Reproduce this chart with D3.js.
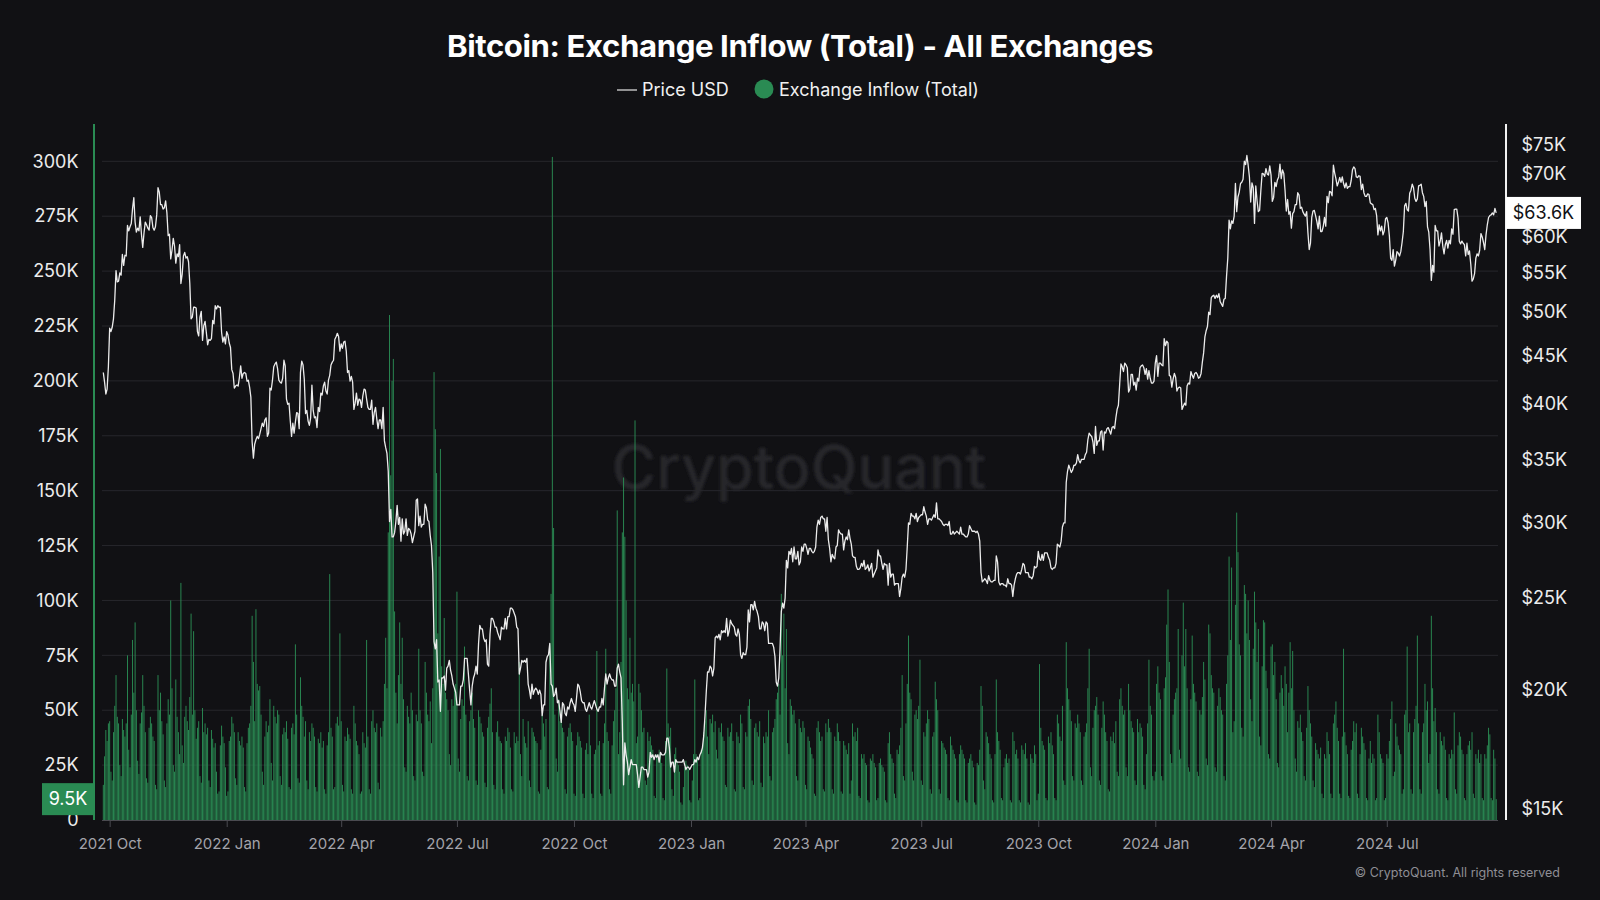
<!DOCTYPE html>
<html>
<head>
<meta charset="utf-8">
<script src="https://cdn.jsdelivr.net/npm/d3@7"></script>
<style>
  body { margin: 0; background: #111114; }
  svg { display: block; font-family: 'Inter', 'Noto Sans', sans-serif; }
</style>
</head>
<body>
<svg></svg>
<script>
const width = 1600;
const height = 900;

// first day of the series, one value per day after it
const startDate = '2021-09-26';

// exchange inflow (total), thousand BTC per day
const inflowK = [
  16, 29, 41, 36, 44,                                                                                          // 2021 Sep 26-30
  45, 22, 18, 40, 52, 66, 47, 44, 25, 20, 46, 41, 38, 44, 75, 32, 24, 48, 82, 58, 90, 50, 27, 21, 44, 49, 66, 52, 40, 19, 17, // Oct
  42, 47, 44, 38, 36, 16, 14, 66, 50, 58, 45, 39, 18, 15, 44, 55, 48, 100, 60, 25, 22, 64, 47, 40, 30, 108, 34, 26, 47, 52,   // Nov
  45, 41, 56, 94, 48, 86, 50, 37, 42, 45, 20, 17, 51, 40, 44, 39, 42, 18, 15, 41, 37, 33, 35, 22, 12, 13, 34, 43, 38, 35, 24, // Dec
  11, 13, 36, 38, 47, 44, 40, 19, 16, 40, 36, 34, 38, 33, 15, 13, 35, 42, 44, 52, 93, 72, 45, 96, 62, 59, 61, 48, 22, 16, 38, // 2022 Jan
  45, 40, 43, 55, 26, 18, 52, 47, 44, 50, 48, 20, 16, 39, 42, 40, 45, 37, 15, 14, 42, 44, 39, 80, 48, 19, 17, 65,             // Feb
  52, 47, 38, 45, 18, 14, 40, 36, 44, 42, 38, 15, 13, 37, 35, 40, 33, 36, 14, 12, 34, 40, 112, 42, 38, 14, 15, 44, 47, 43, 85, // Mar
  45, 16, 13, 38, 36, 42, 39, 37, 14, 12, 52, 44, 36, 34, 30, 12, 13, 40, 35, 33, 82, 38, 14, 12, 45, 50, 42, 40, 44, 17,     // Apr
  14, 42, 38, 45, 62, 83, 60, 131, 230, 157, 200, 210, 95, 58, 44, 66, 90, 62, 83, 55, 24, 22, 52, 47, 44, 58, 50, 20, 18, 48, 45, // May
  78, 50, 44, 22, 20, 72, 58, 48, 45, 54, 35, 60, 204, 178, 158, 85, 120, 169, 70, 62, 92, 58, 55, 50, 30, 25, 55, 52, 60, 62, // Jun
  104, 28, 22, 46, 55, 52, 79, 48, 20, 18, 45, 50, 58, 46, 42, 18, 16, 50, 47, 44, 40, 38, 17, 15, 42, 47, 53, 60, 40, 16, 14, // Jul
  40, 45, 38, 36, 35, 14, 12, 38, 36, 42, 40, 33, 14, 13, 40, 35, 38, 36, 72, 30, 20, 46, 38, 35, 33, 45, 18, 15, 42, 40, 38, // Aug
  36, 35, 13, 12, 32, 48, 44, 38, 46, 15, 14, 80, 103, 302, 133, 48, 28, 22, 55, 45, 50, 42, 40, 14, 12, 38, 42, 44, 40, 36,  // Sep
  12, 11, 34, 40, 38, 36, 33, 12, 10, 32, 35, 30, 48, 34, 12, 10, 30, 32, 77, 34, 36, 12, 11, 35, 44, 78, 40, 36, 14, 12, 34, // Oct
  45, 50, 60, 141, 30, 40, 72, 131, 156, 129, 100, 60, 55, 83, 58, 62, 54, 182, 35, 38, 62, 58, 50, 40, 42, 18, 16, 40, 36, 38, // Nov
  34, 32, 11, 10, 30, 28, 32, 30, 26, 10, 9, 36, 69, 44, 38, 42, 14, 11, 30, 33, 27, 25, 22, 8, 7, 15, 24, 27, 25, 23, 9,     // Dec
  8, 18, 30, 64, 30, 28, 9, 10, 32, 34, 40, 45, 50, 38, 30, 46, 44, 48, 40, 45, 32, 28, 42, 40, 44, 38, 36, 16, 15, 42, 38,   // 2023 Jan
  40, 44, 36, 14, 13, 40, 38, 35, 48, 44, 15, 14, 40, 38, 52, 55, 46, 18, 16, 42, 44, 40, 38, 45, 17, 15, 38, 35,             // Feb
  40, 38, 50, 20, 18, 40, 42, 46, 55, 58, 62, 48, 103, 75, 94, 60, 87, 35, 30, 55, 52, 48, 50, 44, 20, 18, 46, 42, 40, 45, 42, // Mar
  16, 14, 38, 36, 33, 30, 28, 12, 11, 42, 45, 40, 36, 38, 14, 13, 44, 40, 46, 42, 40, 14, 12, 38, 36, 44, 40, 36, 13, 12,     // Apr
  36, 34, 32, 30, 35, 12, 18, 44, 38, 40, 36, 42, 11, 10, 30, 28, 30, 26, 25, 9, 8, 28, 27, 30, 26, 24, 9, 10, 26, 28, 25,    // May
  24, 22, 9, 8, 35, 40, 30, 28, 26, 12, 10, 32, 30, 34, 42, 66, 20, 18, 44, 62, 84, 58, 55, 22, 18, 48, 50, 46, 52, 73,       // Jun
  18, 16, 40, 38, 44, 50, 46, 14, 12, 38, 40, 63, 55, 50, 14, 12, 36, 35, 33, 32, 30, 10, 9, 38, 34, 32, 30, 28, 9, 8, 30,    // Jul
  34, 32, 30, 28, 9, 8, 26, 28, 30, 27, 24, 8, 7, 26, 25, 32, 61, 52, 18, 14, 40, 38, 35, 30, 28, 9, 8, 30, 64, 40, 36,       // Aug
  32, 10, 9, 24, 28, 30, 26, 28, 9, 8, 40, 36, 30, 32, 28, 9, 8, 34, 32, 30, 35, 28, 8, 7, 30, 28, 26, 34, 30, 9,             // Sep
  12, 71, 42, 36, 34, 32, 10, 9, 38, 35, 40, 34, 30, 10, 9, 48, 44, 38, 36, 52, 18, 16, 81, 60, 55, 50, 45, 20, 18, 44, 42,   // Oct
  48, 44, 40, 18, 16, 38, 40, 44, 60, 78, 24, 20, 42, 50, 52, 56, 48, 18, 16, 42, 54, 48, 40, 36, 14, 13, 38, 36, 40, 35,     // Nov
  45, 22, 20, 55, 60, 52, 48, 50, 24, 20, 62, 50, 45, 42, 40, 18, 16, 46, 40, 44, 42, 38, 16, 14, 30, 44, 73, 52, 48, 20, 18, // Dec
  22, 62, 70, 58, 55, 20, 18, 60, 65, 89, 105, 72, 30, 26, 48, 55, 58, 60, 87, 32, 28, 75, 99, 70, 87, 60, 24, 22, 55, 84, 62, // 2024 Jan
  58, 54, 22, 20, 50, 48, 56, 72, 64, 28, 25, 89, 85, 66, 60, 58, 24, 22, 52, 60, 56, 50, 48, 20, 18, 62, 75, 120, 82,        // Feb
  115, 40, 45, 98, 140, 122, 80, 75, 42, 38, 107, 103, 85, 100, 82, 55, 45, 78, 104, 90, 72, 87, 38, 34, 70, 91, 90, 68, 60, 30, 28, // Mar
  79, 80, 66, 72, 55, 26, 24, 58, 66, 60, 52, 70, 62, 40, 58, 81, 60, 77, 50, 28, 22, 45, 42, 48, 40, 36, 20, 18, 42, 61,     // Apr
  50, 44, 38, 18, 15, 35, 32, 30, 28, 33, 12, 10, 30, 28, 40, 36, 30, 12, 10, 44, 48, 54, 42, 36, 12, 10, 38, 78, 40, 34, 30, // May
  11, 10, 32, 36, 45, 40, 44, 12, 10, 30, 42, 38, 35, 32, 10, 9, 28, 36, 26, 30, 28, 9, 10, 48, 40, 30, 28, 26, 9, 10,        // Jun
  30, 28, 36, 46, 54, 20, 22, 44, 38, 34, 32, 30, 12, 14, 48, 50, 79, 40, 44, 14, 12, 40, 46, 52, 84, 44, 14, 12, 40, 44, 62, // Jul
  50, 54, 26, 30, 93, 60, 45, 51, 40, 14, 12, 40, 36, 34, 38, 32, 10, 9, 30, 28, 32, 30, 49, 14, 12, 34, 40, 38, 32, 30, 10,  // Aug
  9, 30, 34, 36, 32, 40, 12, 10, 30, 28, 32, 26, 30, 10, 9, 30, 28, 34, 42, 39, 10, 9, 32, 28, 9.5                           // Sep 1-25
];

// price, thousand USD per day
const priceK = [
  43.2, 42.2, 41.0, 41.5, 43.8,
  48.1, 47.7, 48.2, 49.2, 51.5, 55.3, 53.8, 53.9, 55.0, 54.7, 57.5, 56.0, 57.4, 57.3, 61.7, 60.9, 61.5, 62.0, 64.3, 66.0, 62.2, 60.7, 61.3, 60.9, 63.0, 60.4, 58.5, 60.6, 62.2, 61.8, 61.3,
  61.0, 63.2, 62.9, 61.4, 61.0, 61.5, 63.3, 67.6, 66.9, 64.9, 64.9, 64.2, 64.4, 65.5, 63.6, 60.2, 60.4, 56.9, 58.1, 59.8, 58.7, 56.3, 57.6, 57.2, 58.9, 53.6, 54.8, 57.3, 57.8, 57.0,
  57.2, 56.5, 53.6, 49.2, 49.4, 50.6, 50.6, 50.5, 47.7, 47.2, 49.4, 50.1, 46.7, 48.4, 48.9, 47.6, 46.2, 46.8, 46.7, 46.9, 49.0, 48.6, 50.8, 50.4, 50.8, 50.6, 50.6, 47.6, 46.5, 47.1, 46.3,
  47.7, 47.3, 46.4, 45.9, 43.5, 43.1, 41.6, 41.8, 41.9, 41.8, 42.7, 43.9, 42.6, 43.1, 43.2, 43.1, 42.3, 42.4, 41.7, 40.7, 36.5, 35.1, 36.3, 36.7, 37.0, 36.8, 37.2, 37.7, 38.2, 37.9, 38.5,
  38.7, 37.0, 37.3, 41.6, 41.4, 42.4, 43.8, 44.1, 44.3, 43.6, 42.4, 42.2, 42.1, 42.6, 44.5, 43.9, 40.5, 40.0, 40.1, 38.4, 37.0, 38.2, 37.3, 38.3, 39.2, 39.1, 37.7, 43.2,
  44.4, 44.0, 42.5, 39.1, 39.4, 38.4, 38.0, 38.7, 41.9, 39.4, 38.7, 38.8, 37.8, 39.7, 39.3, 41.1, 40.9, 41.8, 42.2, 41.3, 41.0, 42.4, 42.9, 44.0, 44.3, 44.5, 46.8, 47.1, 47.5, 47.1, 45.5,
  46.3, 45.8, 46.5, 46.6, 45.5, 43.2, 43.4, 42.3, 42.8, 42.2, 39.5, 40.1, 41.1, 39.9, 40.5, 40.4, 39.7, 40.8, 41.5, 41.4, 40.5, 39.7, 39.5, 39.5, 40.4, 38.1, 39.2, 39.7, 38.6, 37.7,
  38.5, 38.5, 37.7, 39.7, 36.6, 36.0, 35.5, 34.0, 30.1, 31.0, 29.0, 29.0, 29.3, 30.1, 31.3, 29.9, 30.4, 28.7, 30.3, 29.2, 29.4, 30.3, 29.1, 29.6, 29.5, 29.2, 28.6, 29.0, 29.4, 31.7, 31.8,
  29.8, 30.5, 29.7, 29.9, 29.9, 31.4, 31.1, 30.2, 30.1, 29.1, 28.4, 26.6, 22.5, 22.1, 22.6, 20.4, 20.5, 19.0, 20.6, 20.6, 20.7, 20.0, 21.1, 21.2, 21.5, 21.0, 20.7, 20.3, 20.1, 19.9,
  19.3, 19.3, 19.3, 20.2, 20.2, 20.5, 21.6, 21.6, 21.6, 20.8, 20.0, 19.3, 20.2, 20.6, 20.8, 21.2, 20.8, 22.4, 23.4, 23.2, 23.2, 22.7, 22.5, 22.6, 21.3, 21.2, 22.9, 23.8, 23.8, 23.6, 23.3,
  23.3, 23.0, 22.8, 22.6, 23.3, 23.2, 23.2, 23.8, 23.2, 23.9, 23.9, 24.4, 24.4, 24.3, 24.1, 23.9, 23.3, 23.2, 20.8, 21.1, 21.5, 21.4, 21.5, 21.4, 21.6, 20.3, 20.0, 19.6, 20.3, 19.8, 20.0,
  20.1, 20.0, 19.8, 20.0, 19.8, 18.8, 19.3, 19.3, 21.4, 21.7, 21.8, 22.4, 20.3, 20.2, 19.7, 19.8, 20.1, 19.4, 19.5, 19.0, 18.5, 19.4, 19.3, 18.9, 18.8, 19.2, 19.1, 19.4, 19.6, 19.4,
  19.3, 19.0, 19.6, 20.3, 20.2, 19.9, 19.5, 19.4, 19.4, 19.1, 19.0, 19.2, 19.4, 19.2, 19.1, 19.3, 19.5, 19.3, 19.1, 19.0, 19.2, 19.2, 19.6, 19.3, 20.1, 20.8, 20.3, 20.6, 20.8, 20.6, 20.5,
  20.5, 20.2, 20.2, 21.1, 21.3, 20.9, 20.6, 18.5, 15.9, 17.6, 17.1, 16.8, 16.3, 16.6, 16.9, 16.7, 16.7, 16.7, 16.7, 16.3, 15.8, 16.2, 16.6, 16.6, 16.5, 16.5, 16.5, 16.2, 16.4, 17.2,
  17.0, 17.1, 16.9, 17.1, 17.0, 17.1, 16.8, 17.2, 17.1, 17.1, 17.1, 17.2, 17.8, 17.8, 17.4, 16.6, 16.8, 16.8, 16.4, 16.9, 16.8, 16.8, 16.8, 16.8, 16.8, 16.9, 16.7, 16.5, 16.6, 16.6, 16.5,
  16.6, 16.7, 16.7, 16.9, 16.8, 17.0, 16.9, 17.1, 17.2, 17.4, 17.9, 18.8, 19.9, 20.9, 20.9, 21.2, 21.1, 20.7, 21.1, 22.7, 22.8, 22.7, 22.9, 22.6, 23.1, 23.0, 23.1, 23.0, 23.8, 22.8, 23.1,
  23.7, 23.5, 23.4, 23.3, 22.9, 22.8, 23.2, 22.9, 21.8, 21.6, 21.9, 21.8, 21.8, 22.2, 24.3, 23.6, 24.6, 24.6, 24.3, 24.8, 24.4, 24.2, 23.9, 23.2, 23.2, 23.6, 23.5, 23.1,
  23.6, 23.5, 22.4, 22.4, 22.4, 22.4, 22.2, 21.7, 20.4, 20.2, 20.6, 22.1, 24.2, 24.7, 24.4, 25.0, 27.4, 26.9, 28.0, 27.8, 28.2, 27.3, 28.3, 27.5, 27.5, 28.0, 27.1, 27.3, 28.3, 28.0, 28.5,
  28.5, 28.2, 27.8, 28.2, 28.2, 28.0, 27.9, 28.0, 28.3, 29.7, 30.2, 29.9, 30.4, 30.5, 30.3, 30.3, 29.4, 30.4, 28.8, 28.2, 27.3, 27.8, 27.6, 27.5, 28.3, 28.4, 29.5, 29.3, 29.2, 29.2,
  28.1, 28.7, 29.0, 28.8, 29.5, 28.9, 28.5, 27.7, 27.6, 27.6, 27.0, 26.8, 26.8, 26.9, 27.2, 27.0, 27.4, 26.8, 26.9, 27.1, 26.7, 26.9, 27.2, 26.3, 26.5, 26.7, 26.9, 28.1, 27.7, 27.7, 27.2,
  26.8, 27.2, 27.1, 27.1, 25.8, 27.2, 26.3, 26.5, 26.5, 25.8, 25.9, 25.9, 25.9, 25.1, 25.6, 26.3, 26.5, 26.3, 26.8, 28.3, 30.0, 29.9, 30.7, 30.5, 30.5, 30.3, 30.7, 30.1, 30.4, 30.5,
  30.6, 30.6, 31.2, 30.8, 30.5, 29.9, 30.3, 30.3, 30.2, 30.4, 30.6, 30.4, 31.5, 30.3, 30.3, 30.2, 30.1, 29.9, 29.8, 29.9, 29.9, 29.8, 30.1, 29.2, 29.2, 29.4, 29.2, 29.3, 29.4, 29.3, 29.2,
  29.7, 29.2, 29.2, 29.1, 29.0, 29.0, 29.2, 29.8, 29.6, 29.4, 29.4, 29.4, 29.3, 29.4, 29.2, 28.7, 26.6, 26.0, 26.1, 26.2, 26.1, 25.9, 26.4, 26.1, 26.0, 26.0, 26.1, 26.1, 27.7, 27.3, 26.0,
  25.8, 25.9, 25.9, 25.8, 25.8, 25.7, 26.2, 25.9, 25.9, 25.8, 25.1, 25.8, 26.2, 26.5, 26.6, 26.6, 26.5, 26.8, 27.2, 27.1, 26.6, 26.6, 26.6, 26.3, 26.3, 26.2, 26.4, 27.0, 26.9, 27.0,
  28.0, 27.5, 27.4, 27.8, 27.4, 27.9, 27.9, 27.9, 27.6, 27.4, 26.9, 26.8, 26.9, 26.9, 27.2, 28.5, 28.4, 28.3, 28.7, 29.7, 30.0, 30.0, 33.1, 34.0, 34.5, 34.2, 33.9, 34.1, 34.5, 34.5, 34.7,
  35.4, 34.9, 34.7, 35.0, 35.0, 35.0, 35.4, 35.6, 36.7, 37.3, 37.1, 37.0, 36.5, 35.5, 37.9, 36.2, 36.6, 36.6, 37.4, 37.5, 35.8, 37.4, 37.3, 37.7, 37.8, 37.5, 37.2, 37.8, 37.9, 37.7,
  38.7, 39.5, 39.9, 42.0, 44.1, 43.8, 43.3, 44.2, 44.0, 43.7, 41.2, 41.5, 43.0, 43.0, 41.9, 42.2, 41.4, 42.6, 42.3, 43.7, 43.9, 44.0, 43.7, 43.0, 43.6, 42.5, 43.4, 42.6, 42.1, 42.1, 42.3,
  44.2, 45.0, 42.8, 44.2, 44.2, 44.0, 43.9, 46.9, 46.1, 46.6, 46.4, 42.9, 42.8, 41.7, 42.5, 43.1, 42.7, 41.3, 41.6, 41.7, 41.6, 39.5, 39.8, 40.1, 39.9, 41.8, 42.1, 42.0, 43.3, 42.9, 42.6,
  43.1, 43.2, 43.0, 42.6, 42.7, 43.1, 44.3, 45.3, 47.1, 47.8, 48.3, 50.0, 49.7, 51.8, 52.0, 52.1, 51.7, 52.1, 51.8, 52.3, 51.3, 51.0, 50.7, 51.6, 51.7, 54.5, 57.0, 62.5, 61.2,
  62.4, 62.0, 63.1, 68.3, 63.8, 66.1, 66.9, 68.3, 68.5, 69.0, 72.1, 71.5, 73.1, 71.4, 69.4, 65.3, 68.4, 67.6, 62.0, 67.9, 65.5, 63.8, 64.0, 67.2, 70.0, 69.9, 69.5, 70.8, 69.9, 69.7, 71.3,
  69.7, 65.4, 66.0, 68.5, 67.8, 68.9, 69.4, 71.6, 69.1, 70.6, 70.0, 67.2, 63.9, 65.7, 63.4, 63.8, 61.3, 63.5, 63.8, 64.9, 64.9, 66.8, 66.4, 64.3, 64.5, 63.8, 63.4, 63.1, 63.8, 60.6,
  58.2, 59.1, 62.9, 63.9, 64.0, 63.2, 62.3, 61.2, 63.1, 60.8, 60.8, 61.5, 62.9, 61.6, 66.2, 65.2, 67.0, 66.9, 66.3, 71.4, 70.1, 69.1, 67.9, 68.5, 69.3, 68.5, 69.4, 68.3, 67.6, 68.4, 67.5,
  67.8, 67.8, 68.8, 70.6, 71.1, 70.8, 69.4, 69.3, 69.6, 69.5, 67.3, 68.2, 66.8, 66.2, 66.2, 66.6, 66.5, 65.2, 65.0, 64.9, 64.1, 64.3, 63.2, 60.3, 61.8, 60.9, 61.6, 60.3, 60.9, 62.7,
  62.9, 62.1, 60.2, 57.0, 56.7, 58.2, 55.9, 56.7, 57.9, 57.7, 57.3, 57.9, 59.2, 60.8, 64.7, 65.1, 64.1, 63.9, 66.7, 67.2, 68.2, 67.6, 65.9, 65.4, 65.8, 67.9, 68.0, 68.2, 66.8, 66.2, 64.6,
  65.4, 61.5, 60.7, 58.2, 54.0, 56.0, 55.1, 61.7, 60.9, 60.9, 58.7, 59.4, 60.6, 58.7, 57.6, 58.9, 59.5, 58.4, 59.5, 59.0, 61.2, 60.4, 64.1, 64.2, 64.2, 62.8, 59.4, 59.0, 59.4, 59.1, 58.9,
  57.3, 59.1, 57.5, 58.0, 56.2, 53.9, 54.2, 54.9, 57.0, 57.6, 57.3, 58.1, 60.5, 60.0, 59.2, 58.2, 60.3, 61.8, 62.9, 63.2, 63.3, 63.6, 63.3, 64.3, 63.6
];

const leftTicks = [0, 25000, 50000, 75000, 100000, 125000, 150000, 175000, 200000, 225000, 250000, 275000, 300000];
const rightTicks = [15000, 20000, 25000, 30000, 35000, 40000, 45000, 50000, 55000, 60000, 70000, 75000];
const xTicks = ['2021-10-01', '2022-01-01', '2022-04-01', '2022-07-01', '2022-10-01', '2023-01-01',
  '2023-04-01', '2023-07-01', '2023-10-01', '2024-01-01', '2024-04-01', '2024-07-01'];

const green = '#2a8b53';
const plot = { left: 102, right: 1498, top: 124, bottom: 820 };

if (inflowK.length !== priceK.length) console.warn('length mismatch', inflowK.length, priceK.length);

const parseDay = d3.utcParse('%Y-%m-%d');
const day0 = parseDay(startDate);
const data = inflowK.map((v, i) => ({
  date: d3.utcDay.offset(day0, i),
  inflow: v * 1000,
  price: priceK[i] * 1000
}));
const last = data[data.length - 1];

const svg = d3.select('svg')
  .attr('width', width)
  .attr('height', height);

svg.append('rect')
  .attr('width', width)
  .attr('height', height)
  .attr('fill', '#111114');

const x = d3.scaleUtc()
  .domain([day0, last.date])
  .range([103.3, 1496.2]);

const yInflow = d3.scaleLinear()
  .domain([0, 317000])
  .range([plot.bottom, plot.top]);

const yPrice = d3.scaleLog()
  .domain([14600, 78900])
  .range([plot.bottom, plot.top]);

// ====================================
// Watermark
// ====================================
const defs = svg.append('defs');
defs.append('filter')
  .attr('id', 'soft')
  .append('feGaussianBlur')
  .attr('stdDeviation', 1.6);

defs.append('clipPath')
  .attr('id', 'plot-clip')
  .append('rect')
  .attr('x', plot.left)
  .attr('y', plot.top)
  .attr('width', plot.right - plot.left)
  .attr('height', plot.bottom - plot.top);

svg.append('text')
  .text('CryptoQuant')
  .attr('x', 799)
  .attr('y', 489)
  .attr('text-anchor', 'middle')
  .attr('font-size', 61)
  .attr('font-weight', 500)
  .attr('fill', '#25252a')
  .attr('filter', 'url(#soft)');

// ====================================
// Grid
// ====================================
svg.append('g')
  .selectAll('line')
  .data(leftTicks.filter(d => d > 0))
  .enter()
  .append('line')
  .attr('x1', plot.left)
  .attr('x2', plot.right)
  .attr('y1', d => yInflow(d))
  .attr('y2', d => yInflow(d))
  .attr('stroke', '#27272c')
  .attr('stroke-width', 1);

// ====================================
// Bars and price line
// ====================================
const marks = svg.append('g').attr('clip-path', 'url(#plot-clip)');
const barWidth = 0.95;

marks.append('g')
  .selectAll('rect')
  .data(data)
  .enter()
  .append('rect')
  .attr('x', d => x(d.date) - barWidth / 2)
  .attr('y', d => yInflow(d.inflow))
  .attr('width', barWidth)
  .attr('height', d => yInflow(0) - yInflow(d.inflow))
  .attr('fill', green);

const line = d3.line()
  .x(d => x(d.date))
  .y(d => yPrice(d.price));

marks.append('path')
  .datum(data)
  .attr('d', line)
  .attr('fill', 'none')
  .attr('stroke', '#ececec')
  .attr('stroke-width', 1.3)
  .attr('stroke-linejoin', 'round');

// baseline
svg.append('line')
  .attr('x1', plot.left)
  .attr('x2', plot.right)
  .attr('y1', yInflow(0) + 0.5)
  .attr('y2', yInflow(0) + 0.5)
  .attr('stroke', '#4a4a50');

// ====================================
// Axes
// ====================================
const leftAxis = svg.append('g')
  .attr('transform', 'translate(94, 0)')
  .call(d3.axisLeft(yInflow)
    .tickValues(leftTicks)
    .tickSize(0)
    .tickPadding(15.5)
    .tickFormat(d => d === 0 ? '0' : `${d / 1000}K`));
leftAxis.select('.domain').remove();
leftAxis.selectAll('text')
  .attr('fill', '#ececec')
  .attr('font-size', 18)
  .attr('font-family', 'Inter, sans-serif');

svg.append('line')
  .attr('x1', 94).attr('x2', 94)
  .attr('y1', plot.top).attr('y2', plot.bottom)
  .attr('stroke', green)
  .attr('stroke-width', 2);

const rightAxis = svg.append('g')
  .attr('transform', 'translate(1506, 0)')
  .call(d3.axisRight(yPrice)
    .tickValues(rightTicks)
    .tickSize(0)
    .tickPadding(15.5)
    .tickFormat(d => `$${d / 1000}K`));
rightAxis.select('.domain').remove();
rightAxis.selectAll('text')
  .attr('fill', '#ececec')
  .attr('font-size', 18)
  .attr('font-family', 'Inter, sans-serif');

svg.append('line')
  .attr('x1', 1506).attr('x2', 1506)
  .attr('y1', plot.top).attr('y2', plot.bottom)
  .attr('stroke', '#f2f2f2')
  .attr('stroke-width', 2);

const bottomAxis = svg.append('g')
  .attr('transform', `translate(0, ${plot.bottom + 1})`)
  .call(d3.axisBottom(x)
    .tickValues(xTicks.map(parseDay))
    .tickSize(6)
    .tickPadding(11)
    .tickFormat(d3.utcFormat('%Y %b')));
bottomAxis.select('.domain').remove();
bottomAxis.selectAll('line').attr('stroke', '#4a4a50');
bottomAxis.selectAll('text')
  .attr('fill', '#a3a3aa')
  .attr('font-size', 15)
  .attr('font-family', 'Inter, sans-serif');

// ====================================
// Last value badges
// ====================================
const inflowBadge = svg.append('g')
  .attr('transform', `translate(0, ${yInflow(last.inflow)})`);
inflowBadge.append('rect')
  .attr('x', 42).attr('y', -16)
  .attr('width', 52).attr('height', 32)
  .attr('fill', green);
inflowBadge.append('text')
  .text(`${d3.format('.1f')(last.inflow / 1000)}K`)
  .attr('x', 68).attr('dy', '0.35em')
  .attr('text-anchor', 'middle')
  .attr('fill', '#ffffff')
  .attr('font-size', 18);

const priceBadge = svg.append('g')
  .attr('transform', `translate(0, ${yPrice(last.price)})`);
priceBadge.append('rect')
  .attr('x', 1506).attr('y', -16)
  .attr('width', 75).attr('height', 32)
  .attr('fill', '#ffffff');
priceBadge.append('text')
  .text(`$${d3.format('.1f')(last.price / 1000)}K`)
  .attr('x', 1543.5).attr('dy', '0.35em')
  .attr('text-anchor', 'middle')
  .attr('fill', '#111114')
  .attr('font-size', 18);

// =================================
// Title and legend
// =================================
const title = svg.append('text')
  .text('Bitcoin: Exchange Inflow (Total) - All Exchanges')
  .attr('x', width / 2)
  .attr('y', 57)
  .attr('text-anchor', 'middle')
  .attr('font-size', 30)
  .attr('font-weight', 700)
  .attr('letter-spacing', -0.4)
  .attr('fill', '#ffffff');
const titleWidth = title.node().getComputedTextLength();
if (Math.abs(titleWidth - 706) > 4) {
  title.attr('textLength', 706).attr('lengthAdjust', 'spacingAndGlyphs');
}

const legend = svg.append('g').attr('font-size', 18).attr('fill', '#f0f0f0');
legend.append('line')
  .attr('x1', 617).attr('x2', 637)
  .attr('y1', 90).attr('y2', 90)
  .attr('stroke', '#bdbdbd')
  .attr('stroke-width', 1.5);
legend.append('text')
  .text('Price USD')
  .attr('x', 642).attr('y', 90).attr('dy', '0.35em');
legend.append('circle')
  .attr('cx', 764).attr('cy', 89)
  .attr('r', 9.5)
  .attr('fill', green);
legend.append('text')
  .text('Exchange Inflow (Total)')
  .attr('x', 779).attr('y', 90).attr('dy', '0.35em');

svg.append('text')
  .text('© CryptoQuant. All rights reserved')
  .attr('x', 1560)
  .attr('y', 877)
  .attr('text-anchor', 'end')
  .attr('font-size', 12.5)
  .attr('fill', '#8e8e95');
</script>
</body>
</html>
